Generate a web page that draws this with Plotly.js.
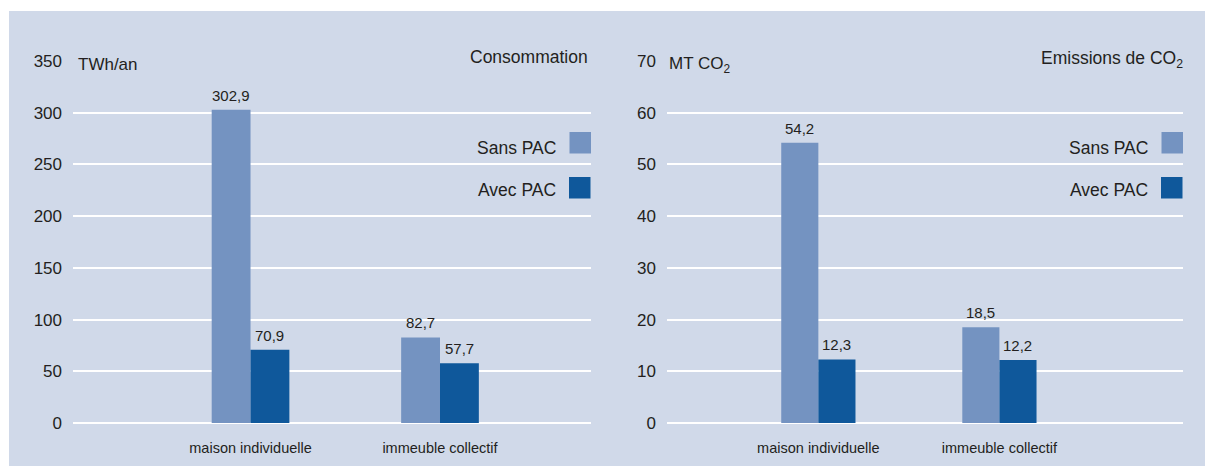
<!DOCTYPE html>
<html><head><meta charset="utf-8">
<script src="https://cdn.plot.ly/plotly-3.0.1.min.js"></script>
<style>html,body{margin:0;padding:0;background:#fff}#c{width:1205px;height:466px}</style>
</head><body><div id="c"></div>
<script>
const categories = ['maison individuelle', 'immeuble collectif'];
const seriesNames = ['Sans PAC', 'Avec PAC'];
const consoSans = [302.9, 82.7];
const consoAvec = [70.9, 57.7];
const co2Sans = [54.2, 18.5];
const co2Avec = [12.3, 12.2];
const consoTicks = [0, 50, 100, 150, 200, 250, 300, 350];
const co2Ticks = [0, 10, 20, 30, 40, 50, 60, 70];

const W = 1205, H = 466;
const px = x => x / W, py = y => 1 - y / H;
const BG = '#d0d9e9', LIGHT = '#7493c1', DARK = '#0f589b', TXT = '#231f20';
const FONT = '"Liberation Sans", Arial, sans-serif';
const fmt = v => v.toFixed(1).replace('.', ',');
const BARGAP = 0.59;
const half = (1 - BARGAP) / 4;

function bar(name, x, y, color, xa, ya) {
  return {type: 'bar', name, x, y, xaxis: xa, yaxis: ya,
    marker: {color, line: {width: 0}}, hoverinfo: 'skip', showlegend: false};
}
const data = [
  bar(seriesNames[0], categories, consoSans, LIGHT, 'x', 'y'),
  bar(seriesNames[1], categories, consoAvec, DARK, 'x', 'y'),
  bar(seriesNames[0], categories, co2Sans, LIGHT, 'x2', 'y2'),
  bar(seriesNames[1], categories, co2Avec, DARK, 'x2', 'y2')
];

const yDom = [py(423), py(61)];
function yax(ticks, anchor) {
  return {domain: yDom, range: [0, ticks[ticks.length - 1]], tickvals: ticks, ticktext: ticks.map(String),
    showgrid: true, gridcolor: '#ffffff', gridwidth: 2, zeroline: true, zerolinecolor: '#ffffff', zerolinewidth: 2,
    showline: false, ticks: '', ticklabelstandoff: 10, anchor,
    tickfont: {family: FONT, size: 17, color: TXT}, fixedrange: true};
}
function xax(dom, range, anchor) {
  return {domain: dom, range, type: 'category', showgrid: false, zeroline: false, showline: false,
    ticks: '', ticklabelstandoff: 14, anchor, tickfont: {family: FONT, size: 14.5, color: TXT}, fixedrange: true};
}

const shapes = [
  {type: 'rect', xref: 'paper', yref: 'paper', x0: px(9), x1: 1, y0: 0, y1: py(11), fillcolor: BG, line: {width: 0}, layer: 'below'}
];
function mask(x0, x1, y0, y1) {
  shapes.push({type: 'rect', xref: 'paper', yref: 'paper', x0: px(x0), x1: px(x1), y0: py(y1), y1: py(y0),
    fillcolor: BG, line: {width: 0}, layer: 'between'});
}
// gaps in the grid where the reference leaves room for titles and legends
mask(60, 148, 50, 72); mask(458, 600, 50, 72); mask(459, 600, 155, 175);
mask(660, 744, 50, 72); mask(1029, 1195, 50, 72); mask(1040, 1195, 155, 175);

function legendSq(x0, y0, color) {
  shapes.push({type: 'rect', xref: 'paper', yref: 'paper', x0: px(x0), x1: px(x0 + 21.5), y0: py(y0 + 21.5), y1: py(y0),
    fillcolor: color, line: {width: 0}, layer: 'above'});
}
legendSq(569.5, 132, LIGHT); legendSq(569, 177, DARK);
legendSq(1161.5, 132, LIGHT); legendSq(1161, 177, DARK);

const annotations = [];
function txt(text, x, y, anchor, size) {
  annotations.push({text, xref: 'paper', yref: 'paper', x: px(x), y: py(y), xanchor: anchor, yanchor: 'middle',
    showarrow: false, font: {family: FONT, size, color: TXT}});
}
txt('TWh/an', 76, 64, 'left', 17);
txt('Consommation', 590, 57, 'right', 17.5);
txt(seriesNames[0], 558, 148, 'right', 17.5);
txt(seriesNames[1], 558, 190, 'right', 17.5);
txt('MT CO<sub>2</sub>', 667, 65, 'left', 17);
txt('Emissions de CO<sub>2</sub>', 1185, 59, 'right', 17.5);
txt(seriesNames[0], 1150, 148, 'right', 17.5);
txt(seriesNames[1], 1150, 190, 'right', 17.5);

// value labels above each bar
function valueLabels(vals, offset, xa, ya) {
  vals.forEach((v, i) => annotations.push({text: fmt(v), xref: xa, yref: ya, x: i + offset, y: v,
    xanchor: 'center', yanchor: 'bottom', yshift: 4, showarrow: false,
    font: {family: FONT, size: 15, color: TXT}}));
}
valueLabels(consoSans, -half, 'x', 'y');
valueLabels(consoAvec, half, 'x', 'y');
valueLabels(co2Sans, -half, 'x2', 'y2');
valueLabels(co2Avec, half, 'x2', 'y2');

const layout = {
  width: W, height: H, margin: {l: 0, r: 0, t: 0, b: 0}, paper_bgcolor: '#ffffff', plot_bgcolor: 'rgba(0,0,0,0)',
  barmode: 'group', bargap: BARGAP, bargroupgap: 0, showlegend: false,
  xaxis: xax([px(73), px(591)], [-0.937, 1.797], 'y'),
  yaxis: yax(consoTicks, 'x'),
  xaxis2: xax([px(667), px(1183)], [-0.836, 2.014], 'y2'),
  yaxis2: yax(co2Ticks, 'x2'),
  shapes, annotations, font: {family: FONT}
};
Plotly.newPlot('c', data, layout, {staticPlot: true, displayModeBar: false});
</script></body></html>
